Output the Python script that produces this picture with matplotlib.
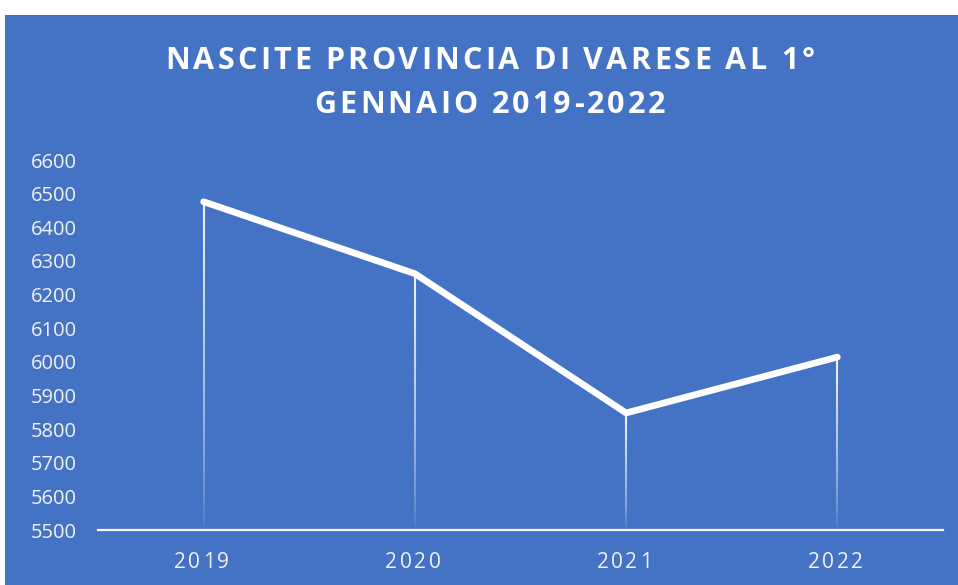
import matplotlib
matplotlib.use("Agg")
import matplotlib.pyplot as plt
from matplotlib.textpath import TextPath
from matplotlib.font_manager import FontProperties
import numpy as np

years = ["2019", "2020", "2021", "2022"]
births = [6476, 6262, 5848, 6014]
y_ticks = list(range(5500, 6601, 100))
title_lines = ["NASCITE PROVINCIA DI VARESE AL 1°", "GENNAIO 2019-2022"]

BLUE = "#4472C4"
W, H = 958, 585
DPI = 100
fig = plt.figure(figsize=(W / DPI, H / DPI), dpi=DPI)
fig.patch.set_facecolor("white")

bg = fig.add_axes([5 / W, 0, 1 - 5 / W, 1 - 15 / H], zorder=0)
bg.set_facecolor(BLUE)
bg.set_xticks([]); bg.set_yticks([])
for s in bg.spines.values():
    s.set_visible(False)


def char_width_px(ch, size_pt, fp):
    scale = DPI / 72.0
    if ch == " ":
        w = TextPath((0, 0), "a a", size=size_pt, prop=fp).get_extents().width - \
            TextPath((0, 0), "aa", size=size_pt, prop=fp).get_extents().width
    else:
        w = TextPath((0, 0), "|" + ch + "|", size=size_pt, prop=fp).get_extents().width - \
            TextPath((0, 0), "||", size=size_pt, prop=fp).get_extents().width
    return w * scale


def spaced_text(cx_px, cy_px, s, size_pt, track_px, fp, color="white"):
    widths = [char_width_px(ch, size_pt, fp) for ch in s]
    total = sum(widths) + track_px * (len(s) - 1)
    x0 = cx_px - total / 2
    for ch, w in zip(s, widths):
        fig.text(x0 / W, 1 - cy_px / H, ch, ha="left", va="center", color=color,
                 fontproperties=fp, fontsize=size_pt, zorder=5)
        x0 += w + track_px


ax = fig.add_axes([98 / W, 1 - 530 / H, (943 - 98) / W, (530 - 160) / H], zorder=2)
ax.set_facecolor("none")
x = np.arange(len(years))

# drop lines with fading gradient
for xi, yi in zip(x, births):
    n = 60
    ys = np.linspace(5500, yi, n + 1)
    for k in range(n):
        a = 0.03 + 0.9 * (k / n) ** 0.7
        ax.plot([xi, xi], [ys[k], ys[k + 1]], color="white", alpha=a, lw=1.5,
                solid_capstyle="butt", zorder=2)

ax.plot(x, births, color="white", lw=4.8, solid_capstyle="round",
        solid_joinstyle="round", zorder=3)

ax.set_xlim(-0.5, 3.5)
ax.set_ylim(5500, 6600)
ax.set_yticks(y_ticks)
ax.set_xticks(x)
ax.set_xticklabels([""] * len(years))
for s in ["top", "right", "left"]:
    ax.spines[s].set_visible(False)
ax.spines["bottom"].set_color("white")
ax.spines["bottom"].set_linewidth(1.6)
ax.tick_params(axis="both", length=0, colors="#F2F2F2")
ax.tick_params(axis="y", pad=15)
for lab in ax.get_yticklabels():
    lab.set_fontfamily("Open Sans")
    lab.set_fontsize(14.5)

fp_tick = FontProperties(family="Open Sans", size=15)
for i, yr in enumerate(years):
    cx = 98 + (i + 0.5) * (943 - 98) / len(years)
    spaced_text(cx - 2, 562, yr, 15, 2.5, fp_tick, color="#F2F2F2")

fp_title = FontProperties(family="Open Sans", weight="bold", size=22)
spaced_text(490, 61, title_lines[0], 22, 3.1, fp_title)
spaced_text(490, 105, title_lines[1], 22, 3.1, fp_title)

fig.savefig("out.png", dpi=DPI, facecolor="white")
